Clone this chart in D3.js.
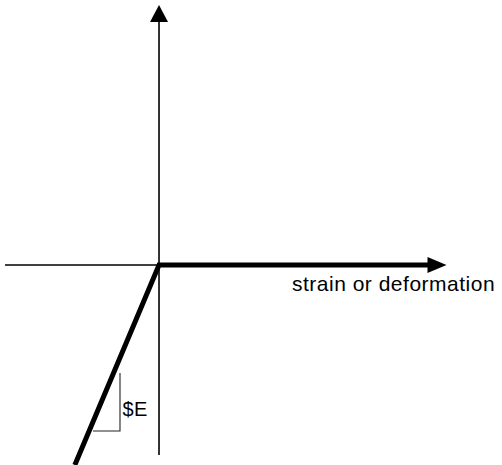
<!DOCTYPE html>
<html>
<head>
<meta charset="utf-8">
<script src="https://cdn.jsdelivr.net/npm/d3@7"></script>
<style>
  html, body { margin: 0; padding: 0; background: #fff; }
  svg { display: block; }
  text { font-family: Arial, "Liberation Sans", sans-serif; fill: #000; }
</style>
</head>
<body>
<svg id="chart" width="502" height="465"></svg>
<script>
// ---- data (abstract strain / stress units) ----
const axisX = [-1.5, 2.8];          // horizontal axis extent (strain)
const axisY = [-1.9, 2.6];          // vertical axis extent (stress)
const responseX = [-0.82, 0, 2.64]; // thick constitutive curve, strain
const responseY = [-2.0, 0, 0];     // thick constitutive curve, stress
const slopeX = [-0.38, -0.38, -0.643]; // slope triangle, strain
const slopeY = [-1.08, -1.66, -1.66];  // slope triangle, stress
const labels = ["strain or deformation", "$E"];

const svg = d3.select("#chart");
const x = d3.scaleLinear().domain([-1.5, 2.8]).range([5, 446.5]);
const y = d3.scaleLinear().domain([-2, 2.6]).range([465, 5]);

const line = d3.line().x(d => x(d[0])).y(d => y(d[1]));

// thin axes
svg.append("path")
  .attr("d", line([[axisX[0], 0], [axisX[1] - 0.18, 0]]))
  .attr("stroke", "#000").attr("stroke-width", 1.4).attr("fill", "none");
svg.append("path")
  .attr("d", line([[0, axisY[0]], [0, axisY[1] - 0.17]]))
  .attr("stroke", "#000").attr("stroke-width", 1.6).attr("fill", "none");

// arrowheads
const tipX = x(axisX[1]), tipY0 = y(0);
svg.append("path")
  .attr("d", `M${tipX},${tipY0} L${tipX - 19},${tipY0 - 8} L${tipX - 19},${tipY0 + 8} Z`)
  .attr("fill", "#000");
const tipUx = x(0), tipUy = y(axisY[1]);
svg.append("path")
  .attr("d", `M${tipUx},${tipUy} L${tipUx - 9},${tipUy + 17} L${tipUx + 9},${tipUy + 17} Z`)
  .attr("fill", "#000");

// thick response curve
svg.append("path")
  .attr("d", line(responseX.map((v, i) => [v, responseY[i]])))
  .attr("stroke", "#000").attr("stroke-width", 5).attr("fill", "none")
  .attr("stroke-linejoin", "miter");

// slope triangle
svg.append("path")
  .attr("d", line(slopeX.map((v, i) => [v, slopeY[i]])))
  .attr("stroke", "#222").attr("stroke-width", 1.1).attr("fill", "none");

// labels
svg.append("text")
  .attr("x", 292).attr("y", 291)
  .attr("font-size", 21).attr("letter-spacing", 0.5)
  .text(labels[0]);
svg.append("text")
  .attr("x", x(slopeX[0]) + 2.5).attr("y", 416)
  .attr("font-size", 20).attr("letter-spacing", 0.5)
  .text(labels[1]);
</script>
</body>
</html>
